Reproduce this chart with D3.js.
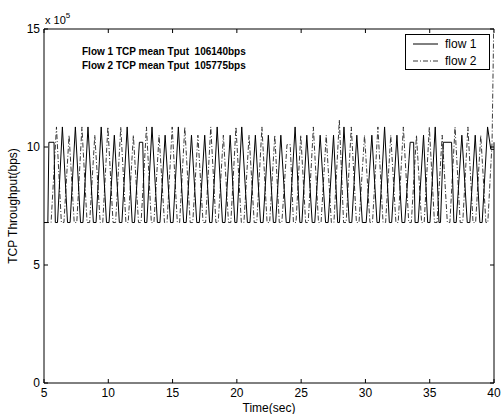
<!DOCTYPE html>
<html>
<head>
<meta charset="utf-8">
<script src="https://cdn.jsdelivr.net/npm/d3@7"></script>
<style>
  body { margin: 0; background: #fff; }
  text { font-family: Arial, "Liberation Sans", sans-serif; }
</style>
</head>
<body>
<div id="chart"></div>
<script>
// throughput values in units of 1e5 bps (axis shows "x 10^5")
var flow1Time = [5.00, 5.30, 5.38, 5.78, 5.88, 6.05, 6.43, 6.83, 7.03, 7.44, 7.84, 8.03, 8.42, 8.84, 9.05, 9.45,
  9.86, 10.06, 10.47, 10.86, 11.06, 11.47, 11.86, 12.04, 12.42, 12.68, 12.82, 13.00, 13.40, 13.82, 14.02, 14.42,
  14.84, 15.04, 15.45, 15.86, 16.06, 16.47, 16.88, 17.08, 17.50, 17.88, 18.07, 18.47, 18.88, 19.08, 19.48, 19.84,
  20.00, 20.38, 20.82, 21.02, 21.44, 21.84, 22.04, 22.45, 22.84, 23.02, 23.42, 23.84, 24.10, 24.53, 24.90, 25.06,
  25.44, 25.86, 26.06, 26.48, 26.90, 27.10, 27.52, 27.84, 27.98, 28.33, 28.74, 28.94, 29.33, 29.76, 30.06, 30.50,
  30.90, 31.08, 31.49, 31.86, 32.04, 32.45, 32.84, 33.06, 33.48, 33.75, 33.86, 34.10, 34.52, 34.84, 35.02, 35.43,
  35.72, 35.84, 36.06, 36.70, 36.88, 37.06, 37.50, 37.92, 38.12, 38.54, 38.90, 39.08, 39.50, 39.75, 40.00];
var flow1Tput = [6.8, 6.8, 10.2, 10.2, 6.8, 6.8, 10.85, 6.8, 6.8, 10.85, 6.8, 6.8, 10.85, 6.8, 6.8, 10.85,
  6.8, 6.8, 10.5, 6.8, 6.8, 10.85, 6.8, 6.8, 10.2, 10.2, 6.8, 6.8, 10.85, 6.8, 6.8, 10.5,
  6.8, 6.8, 10.85, 6.8, 6.8, 10.5, 6.8, 6.8, 10.5, 6.8, 6.8, 10.85, 6.8, 6.8, 10.5, 6.8,
  6.8, 10.85, 6.8, 6.8, 10.5, 6.8, 6.8, 10.5, 6.8, 6.8, 10.5, 6.8, 6.8, 10.85, 6.8, 6.8,
  10.5, 6.8, 6.8, 10.5, 6.8, 6.8, 10.5, 6.8, 6.8, 10.85, 6.8, 6.8, 10.5, 6.8, 6.8, 10.5,
  6.8, 6.8, 10.85, 6.8, 6.8, 10.5, 6.8, 6.8, 10.2, 10.2, 6.8, 6.8, 10.5, 6.8, 6.8, 10.85,
  6.8, 6.8, 10.2, 10.2, 6.8, 6.8, 10.5, 6.8, 6.8, 10.5, 6.8, 6.8, 10.85, 9.9, 9.9];

var flow2Time = [5.00, 5.55, 5.97, 6.35, 6.55, 6.95, 7.35, 7.55, 7.95, 8.35, 8.55, 8.95, 9.37, 9.57, 9.97, 10.37,
  10.57, 10.97, 11.37, 11.55, 11.95, 12.35, 12.55, 12.97, 13.35, 13.55, 13.95, 14.37, 14.57, 14.97, 15.37, 15.55,
  15.95, 16.37, 16.57, 16.97, 17.37, 17.57, 17.97, 18.37, 18.55, 18.95, 19.35, 19.53, 19.93, 20.35, 20.55, 20.95,
  21.35, 21.55, 21.95, 22.35, 22.55, 22.95, 23.30, 23.50, 23.90, 24.15, 24.40, 24.60, 24.97, 25.35, 25.55, 25.95,
  26.35, 26.55, 26.95, 27.35, 27.55, 27.97, 28.30, 28.50, 28.90, 29.30, 29.50, 29.93, 30.35, 30.55, 30.97, 31.37,
  31.57, 31.97, 32.37, 32.55, 32.95, 33.37, 33.57, 33.97, 34.37, 34.57, 34.97, 35.37, 35.57, 35.97, 36.37, 36.57,
  36.97, 37.37, 37.57, 37.97, 38.37, 38.57, 38.97, 39.37, 39.52, 39.85, 40.00];
var flow2Tput = [6.8, 6.8, 10.85, 6.8, 6.8, 10.5, 6.8, 6.8, 10.85, 6.8, 6.8, 10.5, 6.8, 6.8, 10.85, 6.8,
  6.8, 10.85, 6.8, 6.8, 10.5, 6.8, 6.8, 10.85, 6.8, 6.8, 10.5, 6.8, 6.8, 10.85, 6.8, 6.8,
  10.85, 6.8, 6.8, 10.5, 6.8, 6.8, 10.85, 6.8, 6.8, 10.5, 6.8, 6.8, 10.85, 6.8, 6.8, 10.5,
  6.8, 6.8, 10.85, 6.8, 6.8, 10.5, 6.8, 6.8, 10.1, 10.1, 6.8, 6.8, 10.5, 6.8, 6.8, 10.85,
  6.8, 6.8, 10.5, 6.8, 6.8, 11.15, 6.8, 6.8, 10.85, 6.8, 6.8, 10.5, 6.8, 6.8, 10.85, 6.8,
  6.8, 10.5, 6.8, 6.8, 10.85, 6.8, 6.8, 10.5, 6.8, 6.8, 10.85, 6.8, 6.8, 10.5, 6.8, 6.8,
  10.85, 6.8, 6.8, 10.85, 6.8, 6.8, 10.5, 6.8, 6.8, 10.2, 16];

var xTicks = [5, 10, 15, 20, 25, 30, 35, 40];
var yTicks = [0, 5, 10, 15];
var seriesNames = ["flow 1", "flow 2"];
var noteLines = ["Flow 1 TCP mean Tput  106140bps", "Flow 2 TCP mean Tput  105775bps"];

var width = 502, height = 414;
var margin = { left: 44, right: 8, top: 29, bottom: 31 };

var svg = d3.select("#chart").append("svg")
  .attr("width", width)
  .attr("height", height);

var x = d3.scaleLinear().domain([5, 40]).range([margin.left, width - margin.right]);
var y = d3.scaleLinear().domain([0, 15]).range([height - margin.bottom, margin.top]);

svg.append("clipPath").attr("id", "clip")
  .append("rect")
  .attr("x", x(5)).attr("y", y(15))
  .attr("width", x(40) - x(5)).attr("height", y(0) - y(15));

var line = d3.line().x((d) => x(d[0])).y((d) => y(d[1]));
var flow1 = flow1Time.map((t, i) => [t, flow1Tput[i]]);
var flow2 = flow2Time.map((t, i) => [t, flow2Tput[i]]);

var plot = svg.append("g").attr("clip-path", "url(#clip)");
plot.append("path").datum(flow2)
  .attr("d", line)
  .attr("fill", "none")
  .attr("stroke", "#222")
  .attr("stroke-width", 0.9)
  .attr("stroke-dasharray", "5,2,1,2");
plot.append("path").datum(flow1)
  .attr("d", line)
  .attr("fill", "none")
  .attr("stroke", "#000")
  .attr("stroke-width", 1);

// axes box with inward ticks
var frame = svg.append("g").attr("stroke", "#000").attr("stroke-width", 1).attr("fill", "none");
frame.append("line").attr("x1", x(5)).attr("x2", x(40)).attr("y1", y(0)).attr("y2", y(0));
frame.append("line").attr("x1", x(5)).attr("x2", x(40)).attr("y1", y(15)).attr("y2", y(15));
frame.append("line").attr("x1", x(5)).attr("x2", x(5)).attr("y1", y(0)).attr("y2", y(15));
frame.append("line").attr("x1", x(40)).attr("x2", x(40)).attr("y1", y(0)).attr("y2", y(10.2));

xTicks.forEach((t) => {
  frame.append("line").attr("x1", x(t)).attr("x2", x(t)).attr("y1", y(0)).attr("y2", y(0) - 4);
  frame.append("line").attr("x1", x(t)).attr("x2", x(t)).attr("y1", y(15)).attr("y2", y(15) + 4);
  svg.append("text")
    .attr("x", x(t)).attr("y", y(0) + 14)
    .attr("text-anchor", "middle")
    .attr("font-size", "12px")
    .text(t);
});
yTicks.forEach((t) => {
  frame.append("line").attr("x1", x(5)).attr("x2", x(5) + 4).attr("y1", y(t)).attr("y2", y(t));
  frame.append("line").attr("x1", x(40)).attr("x2", x(40) - 4).attr("y1", y(t)).attr("y2", y(t));
  svg.append("text")
    .attr("x", x(5) - 4).attr("y", y(t) + 4)
    .attr("text-anchor", "end")
    .attr("font-size", "12px")
    .text(t);
});

// exponent label
var expo = svg.append("text").attr("x", x(5) + 1).attr("y", y(15) - 5).attr("font-size", "11px");
expo.append("tspan").text("x 10");
expo.append("tspan").attr("dy", -6).attr("font-size", "8px").text("5");

svg.append("text")
  .attr("x", (x(5) + x(40)) / 2).attr("y", height - 2)
  .attr("text-anchor", "middle")
  .attr("font-size", "12px")
  .text("Time(sec)");

svg.append("text")
  .attr("transform", `translate(17,${(y(0) + y(15)) / 2}) rotate(-90)`)
  .attr("text-anchor", "middle")
  .attr("font-size", "12px")
  .text("TCP Throughput(bps)");

noteLines.forEach((s, i) => {
  svg.append("text")
    .attr("x", 82).attr("y", 55 + i * 14)
    .attr("font-size", "10px")
    .attr("font-weight", "bold")
    .attr("xml:space", "preserve")
    .style("white-space", "pre")
    .text(s);
});

// legend
var lg = svg.append("g");
lg.append("rect")
  .attr("x", 405.5).attr("y", 34.5).attr("width", 84).attr("height", 35)
  .attr("fill", "#fff").attr("stroke", "#000").attr("stroke-width", 1);
seriesNames.forEach((s, i) => {
  var ly = 44 + i * 17;
  lg.append("line")
    .attr("x1", 413).attr("x2", 438).attr("y1", ly).attr("y2", ly)
    .attr("stroke", i === 0 ? "#000" : "#222")
    .attr("stroke-width", i === 0 ? 1 : 0.9)
    .attr("stroke-dasharray", i === 0 ? null : "5,2,1,2");
  lg.append("text")
    .attr("x", 445).attr("y", ly + 4)
    .attr("font-size", "12px")
    .text(s);
});
</script>
</body>
</html>
